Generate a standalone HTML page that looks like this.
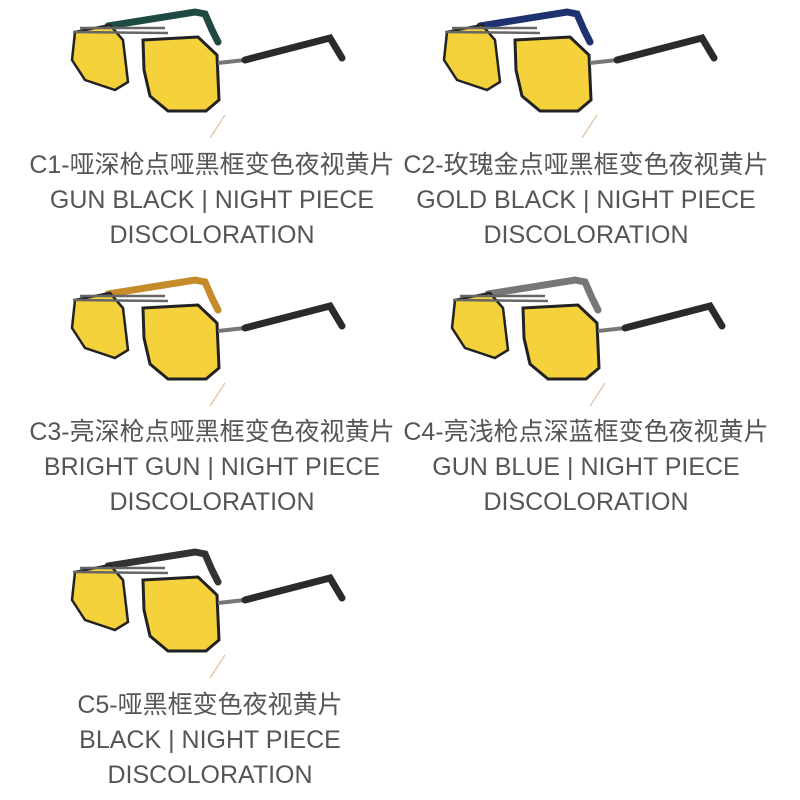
<!DOCTYPE html>
<html><head><meta charset="utf-8"><style>
body{margin:0;background:#fff;width:800px;height:800px;overflow:hidden;position:relative;font-family:"Liberation Sans","Noto Sans CJK SC",sans-serif}
svg{position:absolute;left:0;top:0}
.t{position:absolute;width:400px;text-align:center;color:#555;font-size:25px;line-height:35px}
</style></head><body>
<svg width="800" height="800">
<defs>
<g id="g">
 <path d="M108,26 L195,12 L205,14 L212,30 L218,42" stroke="var(--c)" stroke-width="7" fill="none" stroke-linecap="round"/>
 <polygon points="75,32 110,25 123,40 128,82 115,90 85,80 72,60" fill="#f2d13a" stroke="#222" stroke-width="2.5"/>
 <path d="M73,32 L168,33 M80,28 L165,28" stroke="#666" stroke-width="2.5" fill="none"/>
 <polygon points="143,40 198,37 217,55 219,100 206,111 168,111 150,96 144,70" fill="#f5d23b" stroke="#222" stroke-width="3"/>
 <path d="M218,63 L245,60" stroke="#777" stroke-width="4"/>
 <path d="M245,60 L330,38 L342,58" stroke="#2a2a2a" stroke-width="7" fill="none" stroke-linecap="round"/>
 <line x1="225" y1="115" x2="210" y2="138" stroke="#d9b28a" stroke-width="1"/>
</g>
</defs>
<use href="#g" style="--c:#1f4a44"/>
<use href="#g" transform="translate(372,0)" style="--c:#1f3270"/>
<use href="#g" transform="translate(0,268)" style="--c:#c58a2a"/>
<use href="#g" transform="translate(380,268)" style="--c:#777"/>
<use href="#g" transform="translate(0,540)" style="--c:#333"/>
</svg>
<div class="t" style="left:12px;top:148px">C1-哑深枪点哑黑框变色夜视黄片<br>GUN BLACK | NIGHT PIECE<br>DISCOLORATION</div>
<div class="t" style="left:386px;top:148px">C2-玫瑰金点哑黑框变色夜视黄片<br>GOLD BLACK | NIGHT PIECE<br>DISCOLORATION</div>
<div class="t" style="left:12px;top:415px">C3-亮深枪点哑黑框变色夜视黄片<br>BRIGHT GUN | NIGHT PIECE<br>DISCOLORATION</div>
<div class="t" style="left:386px;top:415px">C4-亮浅枪点深蓝框变色夜视黄片<br>GUN BLUE | NIGHT PIECE<br>DISCOLORATION</div>
<div class="t" style="left:10px;top:688px">C5-哑黑框变色夜视黄片<br>BLACK | NIGHT PIECE<br>DISCOLORATION</div>
</body></html>
